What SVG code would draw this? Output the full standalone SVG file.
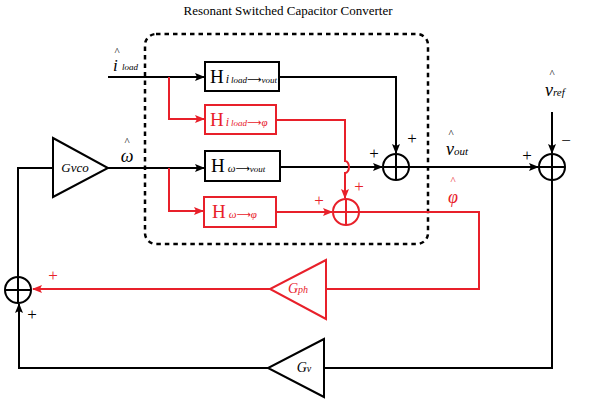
<svg xmlns="http://www.w3.org/2000/svg" width="594" height="403" viewBox="0 0 594 403">
<style>
.k{fill:none;stroke:#000;stroke-width:2}
.r{fill:none;stroke:#e8202a;stroke-width:2}
.t{font-family:"Liberation Serif","DejaVu Serif",serif;fill:#000}
.tr{font-family:"Liberation Serif","DejaVu Serif",serif;fill:#e8202a}
.i{font-style:italic}
.ar{font-family:"DejaVu Sans",sans-serif;font-size:10px;font-style:normal}
</style>
<defs>
<marker id="ak" markerWidth="10" markerHeight="8" refX="9" refY="4" orient="auto" markerUnits="userSpaceOnUse"><path d="M0,0 L10,4 L0,8 L2,4 Z" fill="#000"/></marker>
<marker id="ar" markerWidth="10" markerHeight="8" refX="9" refY="4" orient="auto" markerUnits="userSpaceOnUse"><path d="M0,0 L10,4 L0,8 L2,4 Z" fill="#e8202a"/></marker>
</defs>
<rect width="594" height="403" fill="#fff"/>
<text class="t" x="288" y="15" font-size="13" text-anchor="middle">Resonant Switched Capacitor Converter</text>
<rect x="145" y="34" width="283" height="210" rx="11" fill="none" stroke="#000" stroke-width="2.5" stroke-dasharray="4.5,4"/>

<g id="connectors">
<path class="k" d="M108,77 H204" marker-end="url(#ak)"/>
<path class="r" d="M169,77 V119 H204" marker-end="url(#ar)"/>
<path class="k" d="M108,168 H204" marker-end="url(#ak)"/>
<path class="r" d="M169,168 V211 H203" marker-end="url(#ar)"/>
<path class="k" d="M279,77 H396 V153" marker-end="url(#ak)"/>
<path class="k" d="M280,167 H382" marker-end="url(#ak)"/>
<path class="r" d="M276,120 H345 V161 a4,6 0 0 1 0,12 V198" marker-end="url(#ar)"/>
<path class="r" d="M276,212 H332" marker-end="url(#ar)"/>
<path class="k" d="M409,167 H538" marker-end="url(#ak)"/>
<path class="k" d="M552,112 V153" marker-end="url(#ak)"/>
<path class="r" d="M359,212 H479 V289 H326"/>
<path class="r" d="M270,289 H33" marker-end="url(#ar)"/>
<path class="k" d="M552,180 V368 H324"/>
<path class="k" d="M268,368 H19 V304" marker-end="url(#ak)"/>
<path class="k" d="M18,277 V168 H53"/>
</g>

<g id="h_iload_vout">
<rect class="k" x="205" y="62" width="74" height="29" fill="#fff"/>
<text class="t" x="210" y="83" font-size="19">H<tspan class="i" font-size="12" dx="2">i</tspan><tspan class="i" font-size="9" dx="2">load</tspan><tspan class="ar">⟶</tspan><tspan class="i" font-size="9">vout</tspan></text>
</g>
<g id="h_iload_phi">
<rect class="r" x="205" y="105" width="71" height="29" fill="#fff"/>
<text class="tr" x="210" y="126" font-size="19">H<tspan class="i" font-size="12" dx="2">i</tspan><tspan class="i" font-size="9" dx="2">load</tspan><tspan class="ar">⟶</tspan><tspan class="i" font-size="11">φ</tspan></text>
</g>
<g id="h_w_vout">
<rect class="k" x="205" y="151" width="75" height="30" fill="#fff"/>
<text class="t" x="211" y="172" font-size="19">H<tspan class="i" font-size="11" dx="3">ω</tspan><tspan class="ar">⟶</tspan><tspan class="i" font-size="9">vout</tspan></text>
</g>
<g id="h_w_phi">
<rect class="r" x="204" y="197" width="72" height="30" fill="#fff"/>
<text class="tr" x="212" y="218" font-size="19">H<tspan class="i" font-size="11" dx="3">ω</tspan><tspan class="ar">⟶</tspan><tspan class="i" font-size="11">φ</tspan></text>
</g>

<g id="sum_vout">
<circle class="k" cx="396" cy="167" r="13"/>
<path class="k" d="M383,167 H409 M396,154 V180"/>
<text class="t" x="374" y="159" font-size="17" text-anchor="middle">+</text>
<text class="t" x="412" y="144" font-size="17" text-anchor="middle">+</text>
</g>
<g id="sum_phi">
<circle class="r" cx="346" cy="212" r="13"/>
<path class="r" d="M333,212 H359 M346,199 V225"/>
<text class="tr" x="359" y="192" font-size="17" text-anchor="middle">+</text>
<text class="tr" x="319" y="206" font-size="17" text-anchor="middle">+</text>
</g>
<g id="sum_ref">
<circle class="k" cx="552" cy="167" r="13"/>
<path class="k" d="M539,167 H565 M552,154 V180"/>
<text class="t" x="527" y="161" font-size="17" text-anchor="middle">+</text>
<text class="t" x="566" y="146" font-size="17" text-anchor="middle">−</text>
</g>
<g id="sum_w">
<circle class="k" cx="18" cy="290" r="13"/>
<path class="k" d="M5,290 H31 M18,277 V303"/>
<text class="tr" x="53" y="281" font-size="17" text-anchor="middle">+</text>
<text class="t" x="32" y="320" font-size="17" text-anchor="middle">+</text>
</g>

<g id="gvco">
<path class="k" d="M53,138 L108,168 L53,197 Z" fill="#fff"/>
<text class="t i" x="75" y="172" font-size="13" text-anchor="middle">Gvco</text>
</g>
<g id="gph">
<path class="r" d="M326,260 L270,289 L326,319 Z" fill="#fff"/>
<text class="tr i" x="298" y="293" font-size="14" text-anchor="middle">G<tspan font-size="10">ph</tspan></text>
</g>
<g id="gv">
<path class="k" d="M324,339 L268,368 L324,397 Z" fill="#fff"/>
<text class="t i" x="304" y="372" font-size="14" text-anchor="middle">G<tspan font-size="10">v</tspan></text>
</g>

<g id="labels">
<text class="t" x="117" y="55" font-size="11" text-anchor="middle">^</text>
<text class="t i" x="113" y="71" font-size="17">i</text>
<text class="t i" x="122" y="70" font-size="9">load</text>
<text class="t" x="127" y="145" font-size="11" text-anchor="middle">^</text>
<text class="t i" x="127" y="162" font-size="18" text-anchor="middle">ω</text>
<text class="t" x="451" y="137" font-size="11" text-anchor="middle">^</text>
<text class="t i" x="446" y="155" font-size="18">v<tspan font-size="11">out</tspan></text>
<text class="tr" x="453" y="184" font-size="11" text-anchor="middle">^</text>
<text class="tr i" x="453" y="203" font-size="18" text-anchor="middle">φ</text>
<text class="t" x="552" y="77" font-size="11" text-anchor="middle">^</text>
<text class="t i" x="545" y="96" font-size="18">v<tspan font-size="11">ref</tspan></text>
</g>
</svg>
